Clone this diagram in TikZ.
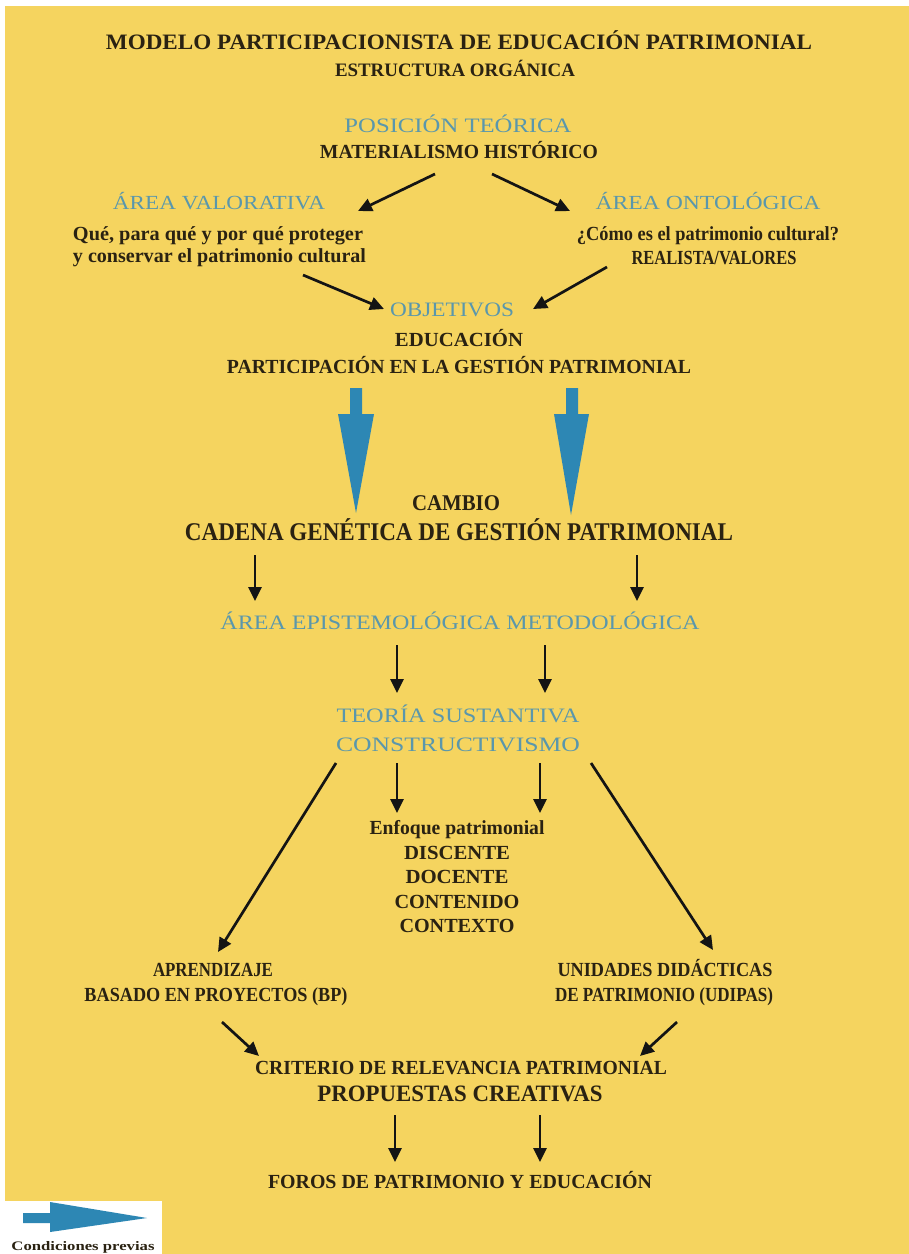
\documentclass[tikz,border=0pt]{standalone}
\usepackage{fontspec}
\setmainfont{Liberation Serif}
\usepackage{graphicx}
\usetikzlibrary{arrows.meta}
\definecolor{bgyellow}{HTML}{F5D45F}
\definecolor{dktext}{HTML}{2A2212}
\definecolor{bltext}{HTML}{5A97AC}
\definecolor{blarrow}{HTML}{2D87B4}
\newcommand\fw[2]{\resizebox{#1pt}{\height}{#2}}
\tikzset{
  dk/.style={anchor=base, inner sep=0pt, text=dktext, font=\bfseries\fontsize{#1}{#1}\selectfont},
  dk/.default=20,
  bl/.style={anchor=base, inner sep=0pt, text=bltext, font=\fontsize{#1}{#1}\selectfont},
  bl/.default=20.5,
  arr/.style={line width=2.7pt, draw=black!92, -{Triangle[length=14pt,width=13pt]}},
  bigarrow/.style={fill=blarrow}
}
\begin{document}
\begin{tikzpicture}[x=1pt,y=-1pt]
\useasboundingbox (0,0) rectangle (909,1254);
\fill[white] (0,0) rectangle (909,1254);
\fill[bgyellow] (5,6) rectangle (909,1254);

% texts
\node[dk=22] (title) at (459,49) {\fw{706}{MODELO PARTICIPACIONISTA DE EDUCACIÓN PATRIMONIAL}};
\node[dk=19] (sub) at (455,76.5) {\fw{240}{ESTRUCTURA ORGÁNICA}};
\node[bl] (pos) at (458,132.5) {\fw{227}{POSICIÓN TEÓRICA}};
\node[dk=20] (mat) at (459,158.5) {\fw{278}{MATERIALISMO HISTÓRICO}};

\node[bl=20] (aval) at (219,209.5) {\fw{212}{ÁREA VALORATIVA}};
\node[dk] (q1) at (218,240) {\fw{290}{Qué, para qué y por qué proteger}};
\node[dk] (q2) at (219.5,262) {\fw{293}{y conservar el patrimonio cultural}};

\node[bl=20] (aont) at (708,209.5) {\fw{225}{ÁREA ONTOLÓGICA}};
\node[dk] (c1) at (708,240) {\fw{262}{¿Cómo es el patrimonio cultural?}};
\node[dk] (c2) at (714,264) {\fw{165}{REALISTA/VALORES}};

\node[bl] (obj) at (452,316.5) {\fw{124}{OBJETIVOS}};
\node[dk] (edu) at (459,346.5) {\fw{128}{EDUCACIÓN}};
\node[dk] (part) at (459,373.5) {\fw{464}{PARTICIPACIÓN EN LA GESTIÓN PATRIMONIAL}};

\node[dk=22.5] (camb) at (456,510) {\fw{88}{CAMBIO}};
\node[dk=25.5] (cad) at (459,540) {\fw{548}{CADENA GENÉTICA DE GESTIÓN PATRIMONIAL}};

\node[bl] (epi) at (460,629.5) {\fw{479}{ÁREA EPISTEMOLÓGICA METODOLÓGICA}};
\node[bl] (teo) at (458,722) {\fw{243}{TEORÍA SUSTANTIVA}};
\node[bl] (cons) at (458,751) {\fw{244}{CONSTRUCTIVISMO}};

\node[dk] (enf) at (457,834) {\fw{175}{Enfoque patrimonial}};
\node[dk] (disc) at (457,859.5) {\fw{106}{DISCENTE}};
\node[dk] (doc) at (457,883.5) {\fw{103}{DOCENTE}};
\node[dk] (cont) at (457,908) {\fw{125}{CONTENIDO}};
\node[dk] (ctx) at (457,932.5) {\fw{115}{CONTEXTO}};

\node[dk] (apr) at (213,976.5) {\fw{120}{APRENDIZAJE}};
\node[dk] (bas) at (216,1001.5) {\fw{263}{BASADO EN PROYECTOS (BP)}};
\node[dk] (uni) at (665,976.5) {\fw{215}{UNIDADES DIDÁCTICAS}};
\node[dk] (dep) at (664,1001.5) {\fw{218}{DE PATRIMONIO (UDIPAS)}};

\node[dk] (crit) at (461,1074.5) {\fw{412}{CRITERIO DE RELEVANCIA PATRIMONIAL}};
\node[dk=23.5] (prop) at (460,1101) {\fw{285}{PROPUESTAS CREATIVAS}};
\node[dk] (foros) at (460,1188.5) {\fw{384}{FOROS DE PATRIMONIO Y EDUCACIÓN}};

% arrow end points
\coordinate (t1s) at (435,174); \coordinate (t1e) at (358,211);
\coordinate (t2s) at (492,174); \coordinate (t2e) at (570,211);
\coordinate (m1s) at (303,275); \coordinate (m1e) at (384,309);
\coordinate (m2s) at (607,267); \coordinate (m2e) at (533,309);
\coordinate (d1s) at (255,555); \coordinate (d1e) at (255,601);
\coordinate (d2s) at (637,555); \coordinate (d2e) at (637,601);
\coordinate (e1s) at (397,645); \coordinate (e1e) at (397,693);
\coordinate (e2s) at (545,645); \coordinate (e2e) at (545,693);
\coordinate (f1s) at (336,763); \coordinate (f1e) at (218,952);
\coordinate (f2s) at (397,763); \coordinate (f2e) at (397,813);
\coordinate (f3s) at (540,763); \coordinate (f3e) at (540,813);
\coordinate (f4s) at (591,763); \coordinate (f4e) at (713,950);
\coordinate (g1s) at (222,1022); \coordinate (g1e) at (259,1056);
\coordinate (g2s) at (677,1022); \coordinate (g2e) at (640,1056);
\coordinate (h1s) at (395,1115); \coordinate (h1e) at (395,1162);
\coordinate (h2s) at (540,1115); \coordinate (h2e) at (540,1162);

\foreach \a in {t1,t2,m1,m2,d1,d2,e1,e2,f1,f2,f3,f4,g1,g2,h1,h2}
  \draw[arr] (\a s) -- (\a e);

% big blue arrows (conditions)
\fill[bigarrow] (350,388) -- (362,388) -- (362,414) -- (374,414) -- (356,513) -- (338,414) -- (350,414) -- cycle;
\fill[bigarrow] (566,388) -- (578,388) -- (578,414) -- (589,414) -- (571,515) -- (554,414) -- (566,414) -- cycle;

% legend
\fill[white] (5,1201) rectangle (162,1254);
\fill[bigarrow] (23,1213) -- (50,1213) -- (50,1202) -- (147,1218) -- (50,1232) -- (50,1223) -- (23,1223) -- cycle;
\node[anchor=base, inner sep=0pt, text=dktext, font=\bfseries\fontsize{13}{13}\selectfont] (leg) at (83,1250) {\fw{143}{Condiciones previas}};
\end{tikzpicture}
\end{document}
